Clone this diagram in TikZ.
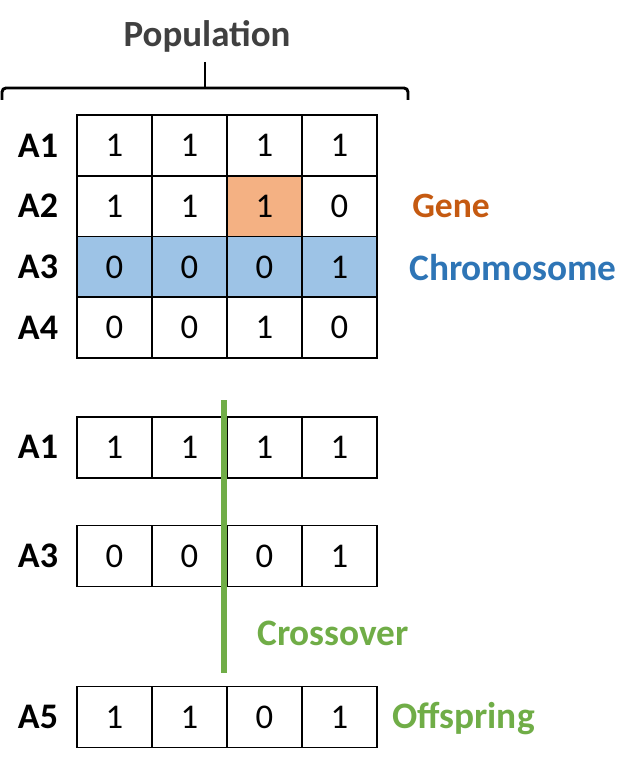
\documentclass[tikz,border=0pt]{standalone}
\usepackage{fontspec}
\setmainfont{Carlito}
\usetikzlibrary{calc,positioning}

\definecolor{genefill}{HTML}{F4B183}
\definecolor{chromofill}{HTML}{9DC3E6}
\definecolor{genetext}{HTML}{C55A11}
\definecolor{chromotext}{HTML}{2E75B6}
\definecolor{crossgreen}{HTML}{70AD47}
\definecolor{titlegray}{HTML}{404040}

\begin{document}
\begin{tikzpicture}[x=0.75pt,y=-0.75pt,
    cell/.style={draw,line width=1.2pt,minimum width=56.25pt,minimum height=45.6pt,
      inner sep=0pt,font=\fontsize{26}{26}\selectfont},
    plain/.style={},
    gene/.style={fill=genefill},
    chromo/.style={fill=chromofill},
    rowlabel/.style={font=\bfseries\fontsize{27}{27}\selectfont},
    tag/.style={anchor=base west,inner sep=0pt,font=\bfseries\fontsize{28}{28}\selectfont}]
  \useasboundingbox (0,0) rectangle (642,763);

  % Population title and brace
  \node[anchor=base,text=titlegray,font=\bfseries\fontsize{27.7}{28}\selectfont] (title) at (207,47) {Population};
  \coordinate (brace left) at (2,100);
  \coordinate (brace right) at (408,100);
  \coordinate (brace tip) at (205,62);
  \draw[line width=2.2pt,rounded corners=3pt] (brace left) |- (brace right |- 0,88) -- (brace right);
  \draw[line width=2.2pt] (brace tip) -- (brace tip |- 0,88);

  % population grid
  \foreach \n/\r/\y/\s/\t/\a/\b/\c/\d in {pop1/A1/145.4/plain/plain/1/1/1/1,
      pop2/A2/206.1/plain/gene/1/1/1/0,
      pop3/A3/266.9/chromo/chromo/0/0/0/1,
      pop4/A4/327.6/plain/plain/0/0/1/0}{
    \node[rowlabel] (\n-lab) at (38,\y) {\r};
    \node[cell,\s] (\n-1) at (114.5,\y) {\a};
    \node[cell,\s] (\n-2) at (189.5,\y) {\b};
    \node[cell,\t] (\n-3) at (264.5,\y) {\c};
    \node[cell,\s] (\n-4) at (339.5,\y) {\d};
  }
  \node[tag,text=genetext,font=\bfseries\fontsize{26.7}{27}\selectfont] (gene) at (412,217) {Gene};
  \node[tag,text=chromotext] (chromo) at (409,280) {Chromosome};

  % parents and offspring
  \foreach \n/\r/\y/\a/\b/\c/\d in {parA/A1/447.3/1/1/1/1,
      parB/A3/555.9/0/0/0/1,
      child/A5/716.9/1/1/0/1}{
    \node[rowlabel] (\n-lab) at (38,\y) {\r};
    \node[cell] (\n-1) at (114.5,\y) {\a};
    \node[cell] (\n-2) at (189.5,\y) {\b};
    \node[cell] (\n-3) at (264.5,\y) {\c};
    \node[cell] (\n-4) at (339.5,\y) {\d};
  }

  % crossover point
  \coordinate (cut top) at (224,400);
  \coordinate (cut bottom) at (224,673);
  \draw[crossgreen,line width=4.2pt] (cut top) -- (cut bottom);
  \node[tag,text=crossgreen] (cross) at (257,645) {Crossover};
  \node[tag,text=crossgreen] (off) at (392,728) {Offspring};
\end{tikzpicture}
\end{document}
